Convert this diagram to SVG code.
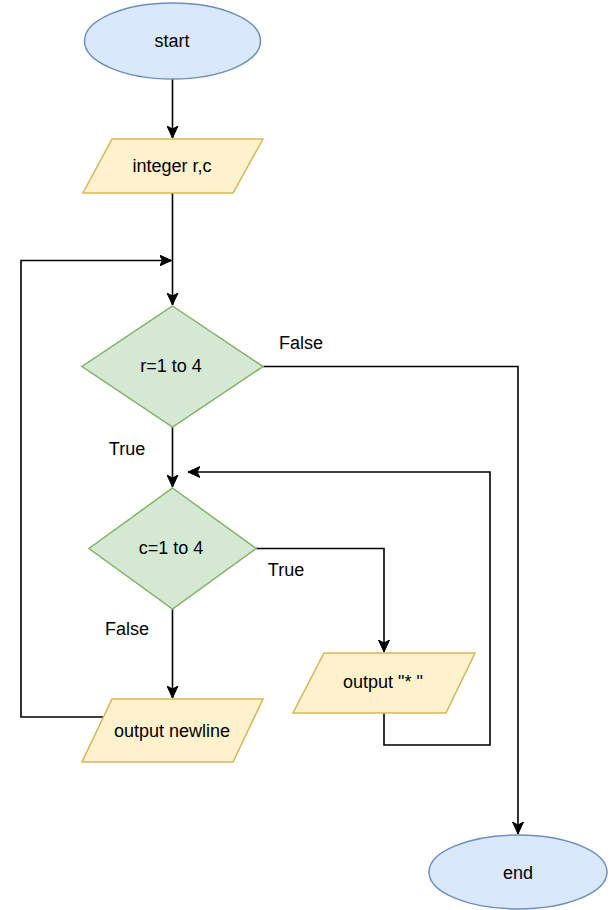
<svg xmlns="http://www.w3.org/2000/svg" width="614" height="910" viewBox="0 0 614 910">
  <style>
    .term { fill: #dae8fc; stroke: #6c8ebf; stroke-width: 1.5; }
    .io { fill: #fff2cc; stroke: #d6b656; stroke-width: 1.5; }
    .dec { fill: #d5e8d4; stroke: #82b366; stroke-width: 1.5; }
    .lbl { font-family: "Liberation Sans", Arial, sans-serif; font-size: 18px; fill: #000; text-anchor: middle; }
    .edge { fill: none; stroke: #000; stroke-width: 1.6; marker-end: url(#arrow); }
  </style>
  <defs>
    <marker id="arrow" viewBox="0 0 12 12" refX="12" refY="6" markerWidth="12" markerHeight="12" markerUnits="userSpaceOnUse" orient="auto">
      <path d="M0,0.5 L12,6 L0,11.5 L3,6 Z" fill="#000" stroke="#000" stroke-width="1"/>
    </marker>
  </defs>

  <rect width="614" height="910" fill="#ffffff"/>

  <!-- connectors -->
  <g id="edges">
    <path class="edge" d="M172.5,79 L172.5,138"/>
    <path class="edge" d="M172.5,193 L172.5,305"/>
    <path class="edge" d="M103.5,717 L21,717 L21,260.5 L171.5,260.5"/>
    <path class="edge" d="M263,366.5 L518,366.5 L518,834"/>
    <path class="edge" d="M172.5,427 L172.5,487"/>
    <path class="edge" d="M256,548.5 L384,548.5 L384,652"/>
    <path class="edge" d="M384,713 L384,745 L490,745 L490,472 L188,472"/>
    <path class="edge" d="M172.5,609 L172.5,698"/>
    <text class="lbl" x="301" y="349">False</text>
    <text class="lbl" x="127" y="455">True</text>
    <text class="lbl" x="286" y="576">True</text>
    <text class="lbl" x="127" y="635">False</text>
  </g>

  <g id="start">
    <ellipse class="term" cx="172.5" cy="41" rx="88" ry="38"/>
    <text class="lbl" x="172" y="47">start</text>
  </g>

  <g id="declare">
    <polygon class="io" points="112,139 263,139 233,193 83,193"/>
    <text class="lbl" x="172" y="172">integer r,c</text>
  </g>

  <g id="loop-r">
    <polygon class="dec" points="172.5,306 263,366.5 172.5,427 82,366.5"/>
    <text class="lbl" x="171" y="372">r=1 to 4</text>
  </g>

  <g id="loop-c">
    <polygon class="dec" points="172.5,488 256,548.5 172.5,609 89,548.5"/>
    <text class="lbl" x="171" y="554">c=1 to 4</text>
  </g>

  <g id="print-star">
    <polygon class="io" points="324,653 475,653 446,713 293,713"/>
    <text class="lbl" x="383" y="688">output "* "</text>
  </g>

  <g id="print-newline">
    <polygon class="io" points="112,699 263,699 233,762 82,762"/>
    <text class="lbl" x="172" y="737">output newline</text>
  </g>

  <g id="end">
    <ellipse class="term" cx="518" cy="872" rx="89" ry="37"/>
    <text class="lbl" x="518" y="879">end</text>
  </g>
</svg>
